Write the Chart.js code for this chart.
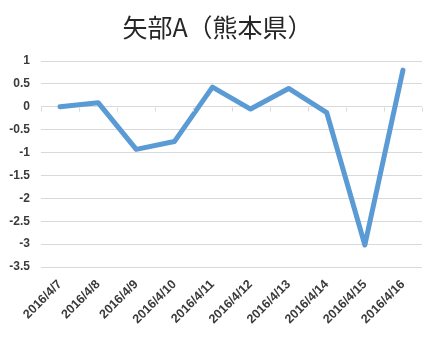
<!DOCTYPE html>
<html>
<head>
<meta charset="utf-8">
<script src="https://cdn.jsdelivr.net/npm/chart.js@4"></script>
<style>
  html, body { margin: 0; padding: 0; background: #fff; }
  #wrap { width: 435px; height: 338px; }
</style>
</head>
<body>
<div id="wrap"><canvas id="chart" width="435" height="338"></canvas></div>
<script>
// 矢部A（熊本県）の日別推移
const TITLE = "矢部A（熊本県）";
const dates = [
  "2016/4/7", "2016/4/8", "2016/4/9", "2016/4/10", "2016/4/11",
  "2016/4/12", "2016/4/13", "2016/4/14", "2016/4/15", "2016/4/16",
];
const values = [0, 0.09, -0.93, -0.76, 0.43, -0.05, 0.4, -0.13, -3.02, 0.8];
const yTicks = [1, 0.5, 0, -0.5, -1, -1.5, -2, -2.5, -3, -3.5];

const GRID = "#d9d9d9";
const TEXT = "#3a3a3a";

// 0 の位置にカテゴリ境界の目盛りを描く
const zeroTicks = {
  id: "zeroTicks",
  afterDatasetsDraw(chart) {
    const x = chart.scales.x;
    const y = chart.scales.y;
    const y0 = Math.round(y.getPixelForValue(0)) + 0.5;
    const half = (x.getPixelForValue(1) - x.getPixelForValue(0)) / 2;
    const ctx = chart.ctx;
    ctx.save();
    ctx.strokeStyle = GRID;
    ctx.lineWidth = 1;
    ctx.beginPath();
    for (let i = 0; i <= dates.length; i++) {
      const px = Math.round(x.getPixelForValue(i) - half) + 0.5;
      ctx.moveTo(px, y0);
      ctx.lineTo(px, y0 + 4);
    }
    ctx.stroke();
    ctx.restore();
  },
};

new Chart(document.getElementById("chart").getContext("2d"), {
  type: "line",
  data: {
    labels: dates,
    datasets: [
      {
        data: values,
        borderColor: "#5b9bd5",
        borderWidth: 5,
        pointRadius: 0,
        tension: 0,
        borderCapStyle: "round",
        borderJoinStyle: "round",
      },
    ],
  },
  options: {
    responsive: false,
    animation: false,
    plugins: {
      legend: { display: false },
      tooltip: { enabled: false },
      title: {
        display: true,
        text: TITLE,
        color: "#262626",
        font: { family: "'Noto Sans CJK JP', sans-serif", size: 25, weight: "normal" },
        padding: { top: 12, bottom: 19 },
      },
    },
    scales: {
      x: {
        offset: true,
        grid: { display: false },
        border: { display: false },
        ticks: {
          color: TEXT,
          font: { family: "'Liberation Sans', sans-serif", size: 12.5, weight: "bold" },
          maxRotation: 45,
          minRotation: 45,
          autoSkip: false,
          padding: 2,
        },
        afterFit(scale) { scale.height = 71; },
      },
      y: {
        min: -3.5,
        max: 1,
        afterBuildTicks(scale) {
          scale.ticks = yTicks.map((v) => ({ value: v }));
        },
        grid: { color: GRID, drawTicks: false },
        border: { display: false },
        ticks: {
          color: TEXT,
          font: { family: "'Liberation Sans', sans-serif", size: 12, weight: "bold" },
          padding: 11,
          callback: (v) => String(v),
        },
        afterFit(scale) { scale.width = 41; },
      },
      // 右側の余白用（表示なし）
      yRight: {
        position: "right",
        grid: { display: false },
        border: { display: false },
        ticks: { display: false },
        afterFit(scale) { scale.width = 13; },
      },
    },
  },
  plugins: [zeroTicks],
});
</script>
</body>
</html>
